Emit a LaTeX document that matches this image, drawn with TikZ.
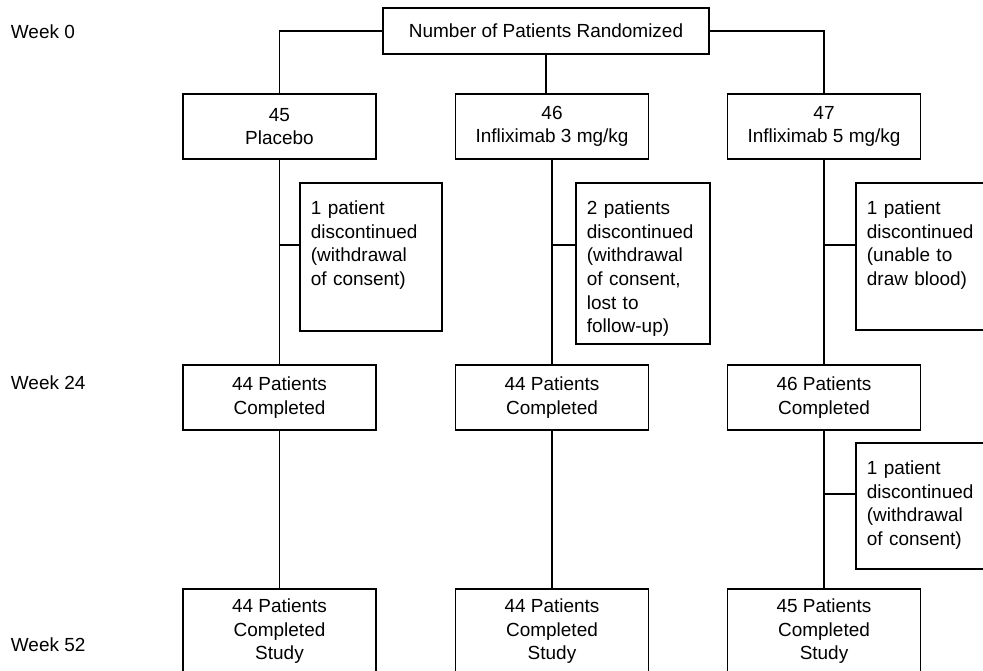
\documentclass[tikz,border=0pt]{standalone}
\usepackage{fontspec}
\setmainfont{Liberation Sans}
\usetikzlibrary{positioning, shapes.geometric}

\begin{document}
\begin{tikzpicture} [x=0.02cm, y=-0.02cm, line width=1pt,
  txt/.style={font=\fontsize{10.8}{13.4}\selectfont},
  grp/.style={txt, rectangle, draw, align=center, minimum width=3.86cm, minimum height=1.3cm},
  disc/.style={txt, rectangle, draw, anchor=north west, align=left, inner xsep=0.22cm, inner ysep=0.2cm, text height=0.44cm},
  week/.style={txt, anchor=west, inner sep=0pt}]
  \clip (0,0) rectangle (983,671);

  \draw (10,32)   node[week](w0)  {Week 0};
  \draw (10,383)  node[week](w24) {Week 24};
  \draw (10,645)  node[week](w52) {Week 52};

  \draw (546,31)  node[grp, minimum width=6.52cm, minimum height=0.92cm](rand) {Number of Patients Randomized};
  \draw (279.5,126.5) node[grp](plc) {45\\Placebo};
  \draw (552,126.5)   node[grp](ifa) {46\\Infliximab 3 mg/kg};
  \draw (824,126.5)   node[grp](ifb) {47\\Infliximab 5 mg/kg};

  \draw (279.5,397.5) node[grp](plc24) {44 Patients\\Completed};
  \draw (552,397.5)   node[grp](ifa24) {44 Patients\\Completed};
  \draw (824,397.5)   node[grp](ifb24) {46 Patients\\Completed};

  \draw (279.5,588) node[grp, anchor=north, minimum height=1.7cm](plc52) {44 Patients\\Completed\\Study};
  \draw (552,588)   node[grp, anchor=north, minimum height=1.7cm](ifa52) {44 Patients\\Completed\\Study};
  \draw (824,588)   node[grp, anchor=north, minimum height=1.7cm](ifb52) {45 Patients\\Completed\\Study};

  \draw (299,182) node[disc, text width=2.4cm, text depth=2.12cm](dplc)
    {1 patient\\discontinued\\(withdrawal\\of consent)};
  \draw (575,182) node[disc, text width=2.24cm, text depth=2.38cm](difa)
    {2 patients\\discontinued\\(withdrawal\\of consent,\\lost to\\follow-up)};
  \draw (855,182) node[disc, text width=2.4cm, text depth=2.10cm](difb)
    {1 patient\\discontinued\\(unable to\\draw blood)};
  \draw (855,442) node[disc, text width=2.4cm, text depth=1.68cm](difb2)
    {1 patient\\discontinued\\(withdrawal\\of consent)};

\draw (rand) -| (plc);
\draw (rand) -| (ifb);
\path (rand) edge (rand |- ifa.north)
      (plc) edge (plc24)
      (ifa) edge (ifa24)
      (ifb) edge (ifb24)
      (plc24) edge (plc52)
      (ifa24) edge (ifa52)
      (ifb24) edge (ifb52);

\path (dplc.north west) ++(0,63) coordinate (jplc)
      (difa.north west) ++(0,63) coordinate (jifa)
      (difb.north west) ++(0,63) coordinate (jifb)
      (difb2.north west) ++(0,52) coordinate (jifb2);
\draw (jplc) -- (jplc -| plc);
\draw (jifa) -- (jifa -| ifa);
\draw (jifb) -- (jifb -| ifb);
\draw (jifb2) -- (jifb2 -| ifb24);
\end{tikzpicture}
\end{document}
